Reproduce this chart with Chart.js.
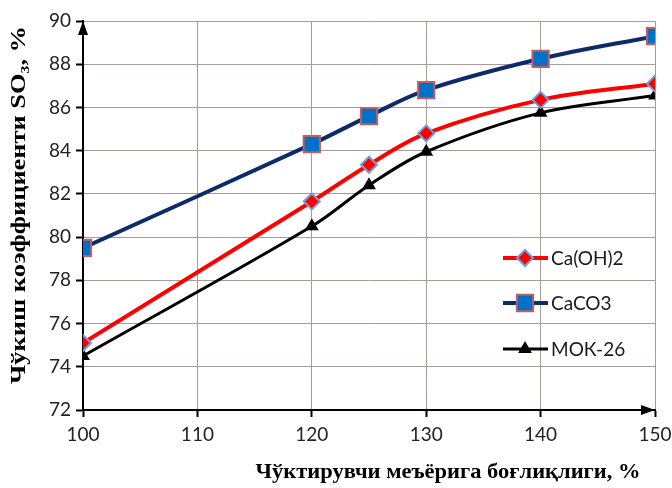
<!DOCTYPE html>
<html>
<head>
<meta charset="utf-8">
<script src="https://cdn.jsdelivr.net/npm/chart.js@4.4.1/dist/chart.umd.min.js"></script>
<style>
  html, body { margin: 0; padding: 0; background: #ffffff; }
  #wrap { width: 672px; height: 488px; }
</style>
</head>
<body>
<div id="wrap"><canvas id="c" width="672" height="488"></canvas></div>
<script>
// Dosage of precipitant, %
const dosage = [100, 120, 125, 130, 140, 150];
// SO3 precipitation coefficient, %
const caOH2 = [75.1, 81.65, 83.35, 84.8, 86.35, 87.1];
const caCO3 = [79.5, 84.3, 85.6, 86.8, 88.25, 89.3];
const mok26 = [74.5, 80.5, 82.4, 83.95, 85.75, 86.55];
const seriesNames = ['Ca(OH)2', 'CaCO3', 'МОК-26'];
const xTicks = [100, 110, 120, 130, 140, 150];
const yTitle = 'Чўкиш коэффициенти SO₃, %';
const xTitle = 'Чўктирувчи меъёрига боғлиқлиги, %';

const pts = (ys) => dosage.map((x, i) => ({ x: x, y: ys[i] }));
const tickFont = '"Lato", "Open Sans", sans-serif';

// draws text stretched to a given width
function fitText(ctx, text, cx, cy, width) {
  const w = ctx.measureText(text).width;
  ctx.save();
  ctx.translate(cx, cy);
  ctx.scale(width / w, 1);
  ctx.fillText(text, 0, 0);
  ctx.restore();
}

// Axis arrows, in-plot legend and axis titles
const decorations = {
  id: 'decorations',
  afterDatasetsDraw(chart) {
    const ctx = chart.ctx;
    const a = chart.chartArea;
    ctx.save();
    ctx.fillStyle = '#000';
    // y arrow
    ctx.beginPath();
    ctx.moveTo(a.left, a.top);
    ctx.lineTo(a.left - 5, a.top + 14);
    ctx.lineTo(a.left + 5, a.top + 14);
    ctx.closePath();
    ctx.fill();
    // x arrow
    ctx.beginPath();
    ctx.moveTo(a.right, a.bottom);
    ctx.lineTo(a.right - 14, a.bottom - 5);
    ctx.lineTo(a.right - 14, a.bottom + 5);
    ctx.closePath();
    ctx.fill();

    // legend
    const lx = 503, ly = [258, 303, 349];
    chart.data.datasets.forEach((ds, i) => {
      const y = ly[i];
      ctx.strokeStyle = ds.borderColor;
      ctx.lineWidth = ds.borderWidth;
      ctx.beginPath();
      ctx.moveTo(lx, y);
      ctx.lineTo(lx + 45, y);
      ctx.stroke();
      ctx.fillStyle = ds.pointBackgroundColor;
      ctx.strokeStyle = ds.pointBorderColor;
      ctx.lineWidth = ds.pointBorderWidth;
      Chart.helpers.drawPoint(ctx, {
        pointStyle: ds.pointStyle,
        radius: ds.pointRadius,
        borderWidth: ds.pointBorderWidth,
        rotation: 0
      }, lx + 22, y);
      ctx.fillStyle = '#1a1a1a';
      ctx.font = '19px ' + tickFont;
      ctx.textBaseline = 'middle';
      ctx.textAlign = 'left';
      ctx.fillText(ds.label, lx + 48, y + 1);
    });

    // axis titles
    ctx.fillStyle = '#000';
    ctx.font = 'bold 21px "Liberation Serif", "Times New Roman", serif';
    ctx.textAlign = 'center';
    ctx.textBaseline = 'middle';
    fitText(ctx, xTitle, 448, 473, 385);
    ctx.translate(19, 205);
    ctx.rotate(-Math.PI / 2);
    ctx.font = 'bold 22px "Liberation Serif", "Times New Roman", serif';
    fitText(ctx, yTitle, 0, 0, 358);
    ctx.restore();
  }
};

new Chart(document.getElementById('c'), {
  type: 'line',
  data: {
    datasets: [
      {
        label: seriesNames[0], data: pts(caOH2),
        borderColor: '#ff0000', borderWidth: 4,
        pointStyle: 'rectRot', pointRadius: 8,
        pointBackgroundColor: '#ff0000', pointBorderColor: '#6f9fd8', pointBorderWidth: 2,
        tension: 0.35, order: 2
      },
      {
        label: seriesNames[1], data: pts(caCO3),
        borderColor: '#0d2a6b', borderWidth: 4,
        pointStyle: 'rect', pointRadius: 11.5,
        pointBackgroundColor: '#0070c8', pointBorderColor: '#c0605e', pointBorderWidth: 2,
        tension: 0.35, order: 1
      },
      {
        label: seriesNames[2], data: pts(mok26),
        borderColor: '#000000', borderWidth: 3,
        pointStyle: 'triangle', pointRadius: 8,
        pointBackgroundColor: '#000000', pointBorderColor: '#000000', pointBorderWidth: 0,
        tension: 0.35, order: 3
      }
    ]
  },
  options: {
    responsive: false,
    animation: false,
    layout: { padding: { left: 0, right: 17, top: 21, bottom: 0 } },
    plugins: { legend: { display: false }, tooltip: { enabled: false } },
    scales: {
      x: {
        type: 'linear', min: 100, max: 150,
        afterBuildTicks: (s) => { s.ticks = xTicks.map(v => ({ value: v })); },
        afterFit: (s) => { s.height = 78; s.paddingRight = 0; },
        grid: { color: '#a89c98', lineWidth: 1, tickLength: 7, tickColor: '#000', tickWidth: 2 },
        border: { color: '#000', width: 2 },
        ticks: { color: '#222', font: { size: 19, family: tickFont }, padding: 6 }
      },
      y: {
        min: 72, max: 90,
        afterFit: (s) => { s.width = 83; },
        grid: { color: '#a89c98', lineWidth: 1, tickLength: 7, tickColor: '#000', tickWidth: 2 },
        border: { color: '#000', width: 2 },
        ticks: { stepSize: 2, color: '#222', font: { size: 19, family: tickFont }, padding: 5 }
      }
    }
  },
  plugins: [decorations]
});
</script>
</body>
</html>
